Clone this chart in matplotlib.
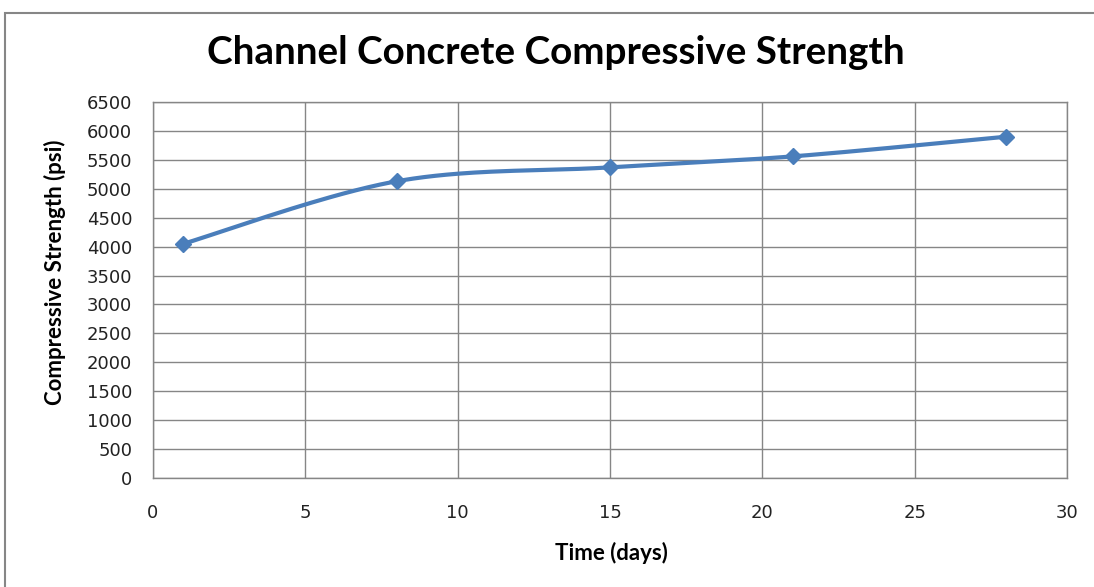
import numpy as np
import matplotlib
matplotlib.use("Agg")
import matplotlib.pyplot as plt
from matplotlib.patches import Rectangle

# Test ages and measured compressive strengths
days = [1, 8, 15, 21, 28]
strength_psi = [4050, 5130, 5370, 5560, 5900]

x_ticks = [0, 5, 10, 15, 20, 25, 30]
y_ticks = list(range(0, 6501, 500))

line_color = "#4A7EBB"
grid_color = "#868686"


def smooth_curve(xs, ys, n=40):
    """Cubic Bezier smoothing through every point (Catmull-Rom style tangents)."""
    pts = np.column_stack([xs, ys]).astype(float)
    out = [pts[0]]
    for i in range(len(pts) - 1):
        p0 = pts[i - 1] if i > 0 else pts[i]
        p1 = pts[i]
        p2 = pts[i + 1]
        p3 = pts[i + 2] if i + 2 < len(pts) else pts[i + 1]
        c1 = p1 + (p2 - p0) / 6.0
        c2 = p2 - (p3 - p1) / 6.0
        t = np.linspace(0, 1, n)[1:, None]
        seg = ((1 - t) ** 3) * p1 + 3 * ((1 - t) ** 2) * t * c1 + 3 * (1 - t) * t ** 2 * c2 + t ** 3 * p2
        out.extend(seg)
    out = np.array(out)
    return out[:, 0], out[:, 1]


W, H = 1094, 587
fig = plt.figure(figsize=(W / 100, H / 100), dpi=100)
ax = fig.add_axes([153 / W, 1 - 478 / H, (1067 - 153) / W, (478 - 102) / H])

# Outer chart frame
fig.patches.append(Rectangle((4.5 / W, -0.05), 1.2, 1 - 12.5 / H + 0.05,
                             transform=fig.transFigure, fill=False,
                             edgecolor=grid_color, linewidth=1.5))

sx, sy = smooth_curve(days, strength_psi)
ax.plot(sx, sy, color=line_color, linewidth=3, solid_capstyle="round", zorder=3)
ax.plot(days, strength_psi, linestyle="none", marker="D", markersize=8,
        color=line_color, zorder=4)

ax.set_xlim(0, 30)
ax.set_ylim(0, 6500)
ax.set_xticks(x_ticks)
ax.set_yticks(y_ticks)
ax.grid(True, color=grid_color, linewidth=1)
ax.set_axisbelow(True)
for s in ax.spines.values():
    s.set_color(grid_color)
    s.set_linewidth(1)
ax.tick_params(length=0, labelsize=13, colors="#222222")
ax.tick_params(axis="y", pad=15)
ax.tick_params(axis="x", pad=19)
for lbl in ax.get_xticklabels() + ax.get_yticklabels():
    lbl.set_fontfamily(["DejaVu Sans"])

lab_font = ["Lato", "DejaVu Sans"]
fig.text(611 / W, 1 - 553 / H, "Time (days)", ha="center", va="center",
         fontsize=16, fontweight="bold", family=lab_font)
fig.text(55 / W, 1 - 272 / H, "Compressive Strength (psi)", ha="center", va="center",
         rotation=90, fontsize=16, fontweight="bold", family=lab_font)
fig.text(556 / W, 1 - 52 / H, "Channel Concrete Compressive Strength",
         ha="center", va="center", fontsize=27.8, fontweight="bold", family=lab_font)

fig.savefig("out.png", dpi=100)
